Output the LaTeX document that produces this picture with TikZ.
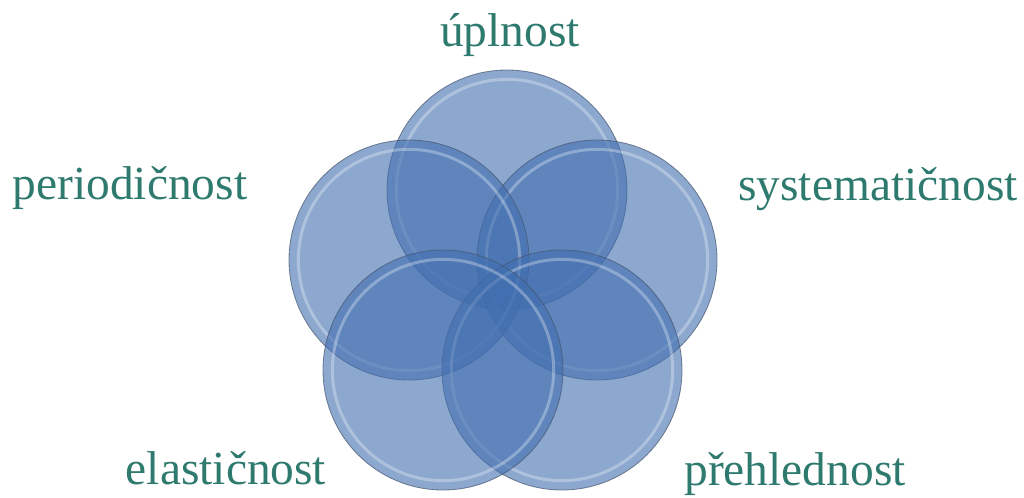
\documentclass[tikz,border=0pt]{standalone}
\usepackage{fontspec}
\setmainfont{Liberation Serif}
\usepackage{tikz}
\usetikzlibrary{positioning}

\definecolor{discblue}{RGB}{65,110,175}
\definecolor{discedge}{RGB}{70,85,110}
\definecolor{labelteal}{RGB}{47,122,110}

\tikzset{
    disc/.style={circle, inner sep=0pt, minimum size=7.2cm, fill=discblue, fill opacity=0.6,
        draw=discedge, draw opacity=0.7, line width=0.7pt,
        path picture={\draw[white, opacity=0.3, line width=2.5pt] (path picture bounding box.center) circle (3.32cm);}},
    lbl/.style={anchor=base, text=labelteal, font=\fontsize{40.5}{48}\selectfont}
}

\begin{document}
\begin{tikzpicture}[x=0.03cm, y=-0.03cm]

        	\useasboundingbox (0,0) rectangle (1024,497);

        	\node[disc] (up) at (507,190) {};
        	\node[disc] (sys) at (597,260) {};
        	\node[disc] (per) at (409,260) {};
        	\node[disc] (pre) at (562,370) {};
        	\node[disc] (ela) at (443,370) {};

        	\node[lbl] (lup) at (510,46) {úplnost};
        	\node[lbl] (lper) at (130,199) {periodičnost};
        	\node[lbl] (lsys) at (878,200) {systematičnost};
        	\node[lbl] (lela) at (226,484) {elastičnost};
        	\node[lbl] (lpre) at (795,485) {přehlednost};

\end{tikzpicture}
\end{document}
